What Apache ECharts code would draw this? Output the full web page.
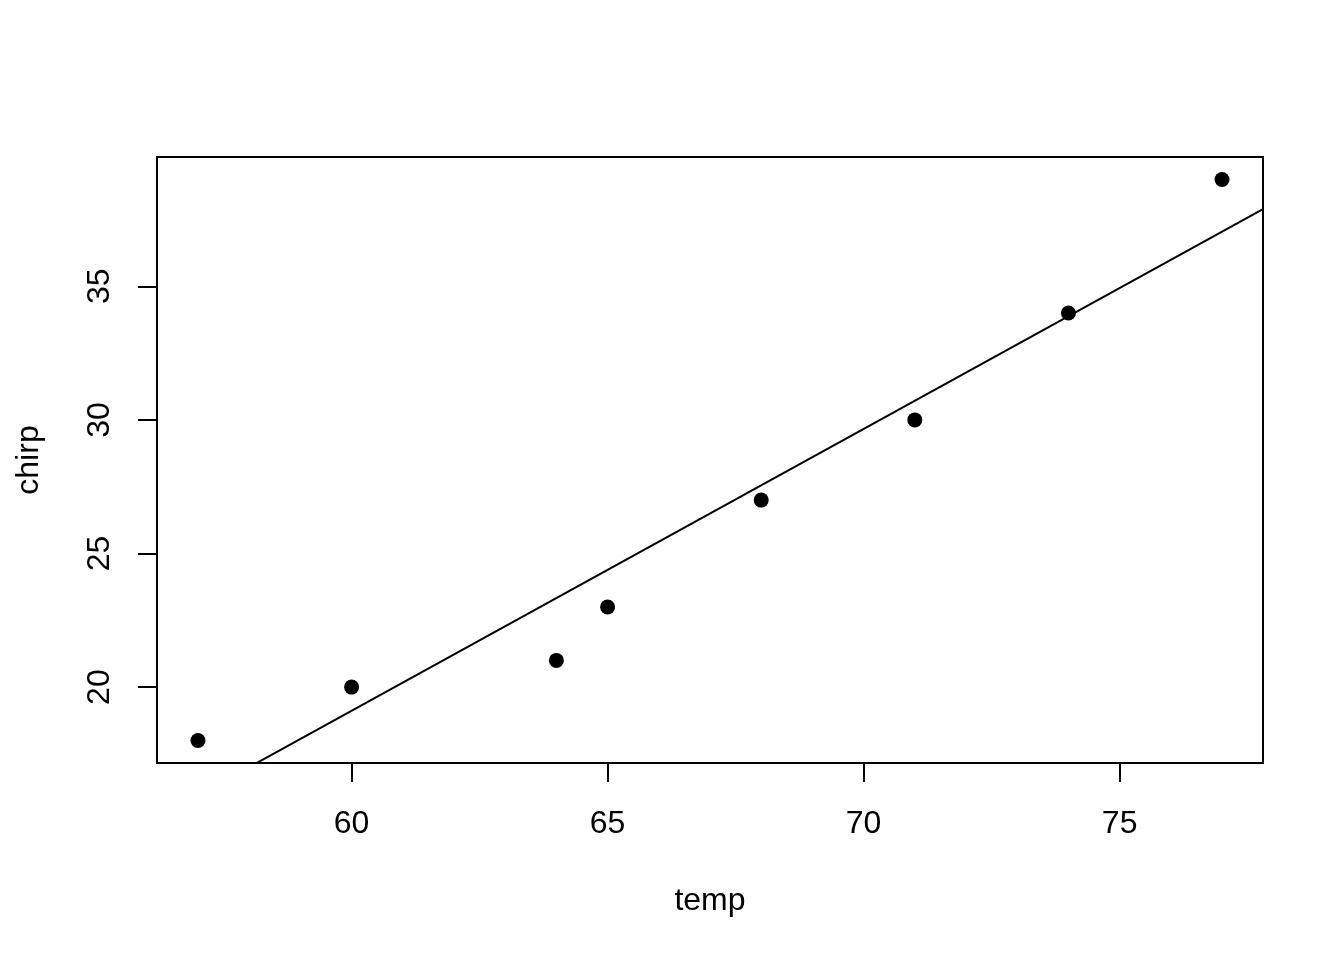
<!DOCTYPE html>
<html>
<head>
<meta charset="utf-8">
<script src="https://cdn.jsdelivr.net/npm/echarts@6/dist/echarts.min.js"></script>
<style>
html,body{margin:0;padding:0;background:#fff;}
#chart{width:1344px;height:960px;}
</style>
</head>
<body>
<div id="chart"></div>
<script>
// Data
const temp  = [57, 60, 64, 65, 68, 71, 74, 77];
const chirp = [18, 20, 21, 23, 27, 30, 34, 39];
// Fitted regression line (intercept, slope)
const fitCoef = [-44.18, 1.0549];
// Axis ranges and tick labels
const xRange = [56.2, 77.8];
const yRange = [17.16, 39.84];
const xTicks = [60, 65, 70, 75];
const yTicks = [20, 25, 30, 35];
const xTitle = 'temp';
const yTitle = 'chirp';

const FONT = "'Liberation Sans', Arial, Helvetica, sans-serif";
const points = temp.map((t, i) => [t, chirp[i]]);
const fitLine = xRange.map(x => [x, fitCoef[0] + fitCoef[1] * x]);

const chart = echarts.init(document.getElementById('chart'));
chart.setOption({
  animation: false,
  backgroundColor: '#ffffff',
  grid: {
    left: 157, top: 157, right: 81, bottom: 197,
    show: true, borderColor: '#000', borderWidth: 2, backgroundColor: 'transparent'
  },
  xAxis: {
    type: 'value', min: xRange[0], max: xRange[1],
    axisLine: { show: false },
    splitLine: { show: false },
    axisTick: { show: true, inside: false, length: 19, customValues: xTicks,
      lineStyle: { color: '#000', width: 2 } },
    axisLabel: { show: true, customValues: xTicks, fontSize: 32, color: '#000',
      fontFamily: FONT, margin: 61, verticalAlign: 'middle', align: 'center' }
  },
  yAxis: {
    type: 'value', min: yRange[0], max: yRange[1],
    axisLine: { show: false },
    splitLine: { show: false },
    axisTick: { show: true, inside: false, length: 19, customValues: yTicks,
      lineStyle: { color: '#000', width: 2 } },
    axisLabel: { show: true, customValues: yTicks, fontSize: 32, color: '#000',
      fontFamily: FONT, margin: 57, rotate: 90, align: 'center', verticalAlign: 'middle' }
  },
  graphic: [
    { type: 'text', x: 710, y: 901, style: { text: xTitle, fontSize: 32, fontFamily: FONT,
      fill: '#000', align: 'center', verticalAlign: 'middle' } },
    { type: 'text', x: 29, y: 460, rotation: Math.PI / 2, style: { text: yTitle, fontSize: 32,
      fontFamily: FONT, fill: '#000', align: 'center', verticalAlign: 'middle' } }
  ],
  series: [
    { type: 'line', data: fitLine, symbol: 'none', clip: true, silent: true,
      lineStyle: { color: '#000', width: 2 }, z: 2 },
    { type: 'scatter', data: points, symbol: 'circle', symbolSize: 15,
      itemStyle: { color: '#000', opacity: 1 }, z: 3 }
  ]
});
</script>
</body>
</html>
